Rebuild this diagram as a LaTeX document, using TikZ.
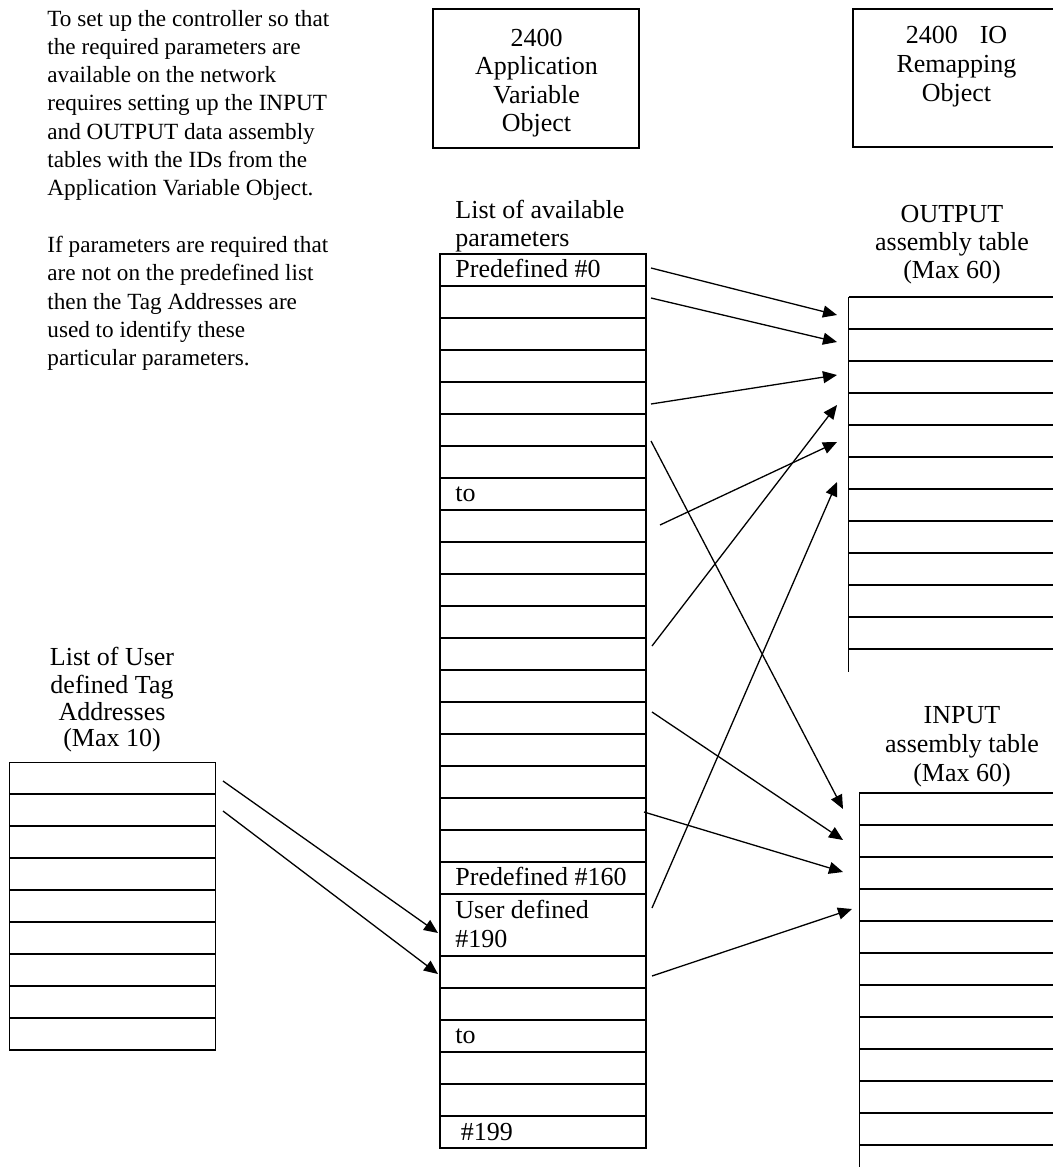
\documentclass[tikz,border=0pt]{standalone}
\usepackage{fontspec}
\setmainfont{Liberation Serif}
\usetikzlibrary{arrows.meta}
\begin{document}
\begin{tikzpicture}[x=0.5pt,y=-0.5pt,
  txt/.style={inner sep=0pt, font=\fontsize{13}{14}\selectfont},
  para/.style={inner sep=0pt, font=\fontsize{11.6}{14}\selectfont},
  ln/.style={line width=0.6pt, draw=black},
  conn/.style={line width=0.65pt, -{Triangle[length=7pt,width=6pt]}}]
\useasboundingbox (0,0) rectangle (1053,1167);

% ---------- explanatory paragraph ----------
\foreach \t [count=\i from 0] in {To set up the controller so that,the required parameters are,available on the network,requires setting up the INPUT,and OUTPUT data assembly,tables with the IDs from the,Application Variable Object.}
  \node[para, anchor=base west] (pa\i) at (47, 26+28.3*\i) {\t};
\foreach \t [count=\i from 8] in {If parameters are required that,are not on the predefined list,then the Tag Addresses are,used to identify these,particular parameters.}
  \node[para, anchor=base west] (pb\i) at (47, 26+28.3*\i) {\t};

% ---------- 2400 Application Variable Object box ----------
\draw[ln] (433,9) rectangle (639,148);
\node[txt, anchor=base] (av1) at (536.5,46.7) {2400};
\node[txt, anchor=base] (av2) at (536.5,74.5) {Application};
\node[txt, anchor=base] (av3) at (536.5,103) {Variable};
\node[txt, anchor=base] (av4) at (536.5,131.5) {Object};

% ---------- 2400 IO Remapping Object box ----------
\draw[ln] (1053,9) -- (853,9) -- (853,147) -- (1053,147);
\node[txt, anchor=base] (io1) at (956.5,43.5) {2400\hspace{11pt}IO};
\node[txt, anchor=base] (io2) at (956.5,72.5) {Remapping};
\node[txt, anchor=base] (io3) at (956.5,101.5) {Object};

% ---------- list of available parameters ----------
\node[txt, anchor=base west] (lp1) at (455,218) {List of available};
\node[txt, anchor=base west] (lp2) at (455,246) {parameters};
\draw[ln] (440,254) rectangle (646,1148);
\foreach \k in {1,...,19} \draw[ln] (440,254+32*\k) -- (646,254+32*\k);
\foreach \yy in {894,956,988,1020,1052,1084,1116} \draw[ln] (440,\yy) -- (646,\yy);
\node[txt, anchor=base west] (r0) at (455,277) {Predefined \#0};
\node[txt, anchor=base west] (r7) at (455,501.5) {to};
\node[txt, anchor=base west] (r160) at (455,885) {Predefined \#160};
\node[txt, anchor=base west] (r190a) at (455,918) {User defined};
\node[txt, anchor=base west] (r190b) at (455,947) {\#190};
\node[txt, anchor=base west] (rto) at (455,1043) {to};
\node[txt, anchor=base west] (r199) at (460.5,1140) {\#199};

% ---------- list of user defined tag addresses ----------
\node[txt, anchor=base] (lu1) at (112,665) {List of User};
\node[txt, anchor=base] (lu2) at (112,693) {defined Tag};
\node[txt, anchor=base] (lu3) at (112,720.5) {Addresses};
\node[txt, anchor=base] (lu4) at (112,746) {(Max 10)};
\draw[ln] (9.5,762.5) rectangle (215.5,1050);
\foreach \k in {0,...,7} \draw[ln] (9.5,794+32*\k) -- (215.5,794+32*\k);

% ---------- OUTPUT assembly table ----------
\node[txt, anchor=base] (ot1) at (952,222) {OUTPUT};
\node[txt, anchor=base] (ot2) at (952,250.5) {assembly table};
\node[txt, anchor=base] (ot3) at (952,278) {(Max 60)};
\draw[ln] (848.5,297) -- (848.5,672);
\foreach \k in {0,...,11} \draw[ln] (848.5,297+32*\k) -- (1053,297+32*\k);

% ---------- INPUT assembly table ----------
\node[txt, anchor=base] (it1) at (962,723) {INPUT};
\node[txt, anchor=base] (it2) at (962,752) {assembly table};
\node[txt, anchor=base] (it3) at (962,781) {(Max 60)};
\draw[ln] (859.3,793) -- (859.3,1167);
\foreach \k in {0,...,11} \draw[ln] (859.3,793+32*\k) -- (1053,793+32*\k);

% ---------- connectors ----------
\coordinate (a1s) at (651,268);  \coordinate (a1e) at (837,315);
\coordinate (a2s) at (651,298);  \coordinate (a2e) at (837,342);
\coordinate (a3s) at (651,404);  \coordinate (a3e) at (837,375);
\coordinate (a4s) at (651,441);  \coordinate (a4e) at (843,809);
\coordinate (a5s) at (660,525);  \coordinate (a5e) at (837,442);
\coordinate (a6s) at (652,646);  \coordinate (a6e) at (837,405);
\coordinate (a7s) at (652,712);  \coordinate (a7e) at (843,840);
\coordinate (a8s) at (644,812);  \coordinate (a8e) at (843,872);
\coordinate (a9s) at (652,908);  \coordinate (a9e) at (837,482);
\coordinate (a10s) at (652,976); \coordinate (a10e) at (852,909);
\coordinate (l1s) at (223,781);  \coordinate (l1e) at (438,933);
\coordinate (l2s) at (223,811);  \coordinate (l2e) at (438,974);
\foreach \n in {a1,a2,a3,a4,a5,a6,a7,a8,a9,a10,l1,l2}
  \draw[conn] (\n s) -- (\n e);
\end{tikzpicture}
\end{document}
